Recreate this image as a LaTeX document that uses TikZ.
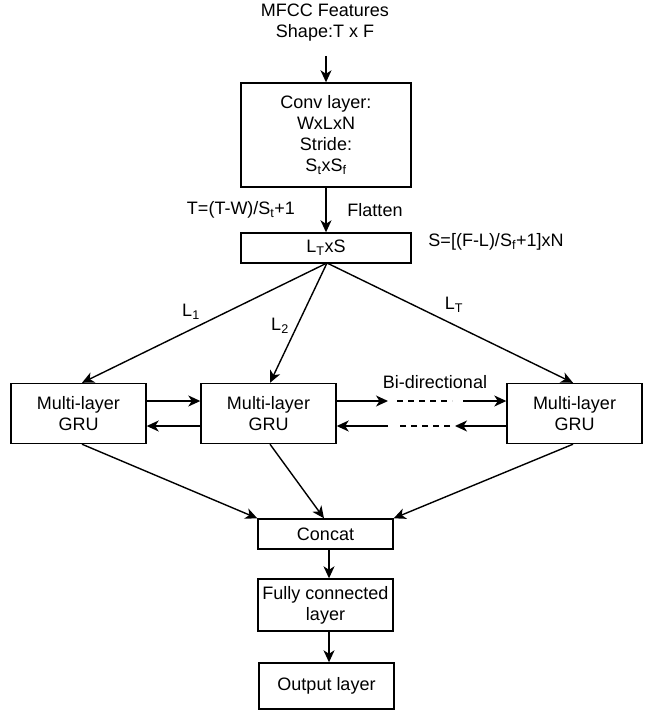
\documentclass[tikz,border=0pt]{standalone}
\usepackage{fontspec}
\setmainfont{Liberation Sans}
\usetikzlibrary{arrows.meta}
\begin{document}
\begin{tikzpicture}[x=1pt,y=-1pt,
  every node/.style={font=\fontsize{18}{21}\selectfont, align=center, inner sep=0pt},
  box/.style={draw, line width=1.4pt},
  conn/.style={line width=1.4pt, -{Stealth[length=12pt,width=11pt,inset=3.5pt]}},
  dsh/.style={line width=1.4pt, dash pattern=on 6pt off 5pt}]
\useasboundingbox (0,0) rectangle (645,719);
% text / boxes
\node (mfcc) at (325,23) {MFCC Features\\Shape:T x F};
\node[box, minimum width=170pt, minimum height=104pt] (conv) at (326,135)
  {Conv layer:\\WxLxN\\Stride:\\S\textsubscript{t}xS\textsubscript{f}};
\node[box, minimum width=170pt, minimum height=30pt] (lts) at (326,248) {L\textsubscript{T}xS};
\node (tlab) at (241,210) {T=(T-W)/S\textsubscript{t}+1};
\node (flat) at (375,210) {Flatten};
\node (slab) at (496,242) {S=[(F-L)/S\textsubscript{f}+1]xN};
\node[box, minimum width=135pt, minimum height=60pt] (g1) at (78.5,413.5) {Multi-layer\\GRU};
\node[box, minimum width=135pt, minimum height=60pt] (g2) at (268.5,413.5) {Multi-layer\\GRU};
\node[box, minimum width=135pt, minimum height=60pt] (g3) at (574.5,413.5) {Multi-layer\\GRU};
\node (bidir) at (435,382) {Bi-directional};
\node (l1) at (191,312) {L\textsubscript{1}};
\node (l2) at (280,326) {L\textsubscript{2}};
\node (lt) at (454,305) {L\textsubscript{T}};
\node[box, minimum width=135pt, minimum height=30pt] (concat) at (325.5,534) {Concat};
\node[box, minimum width=135pt, minimum height=52pt] (fc) at (325.5,605) {Fully connected\\layer};
\node[box, minimum width=135pt, minimum height=46pt] (out) at (326.5,686) {Output layer};
% coordinates
\coordinate (mfccb) at (326,56);
\coordinate (fan) at (327,263);
\coordinate (u1) at (388,401);
\coordinate (u2) at (397,401);
\coordinate (u3) at (452,401);
\coordinate (u4) at (463,401);
\coordinate (d1) at (455,426);
\coordinate (d2) at (450,426);
\coordinate (d3) at (397,426);
\coordinate (d4) at (388,426);
% connectors
\draw[conn] (mfccb) -- (conv.north);
\draw[conn] (conv.south) -- (lts.north);
\draw[conn] (fan) -- (g1.north -| 82,0);
\draw[conn] (fan) -- (g2.north -| 270,0);
\draw[conn] (fan) -- (g3.north -| 573,0);
\draw[conn] (g1.east |- 0,401) -- (g2.west |- 0,401);
\draw[conn] (g2.west |- 0,426) -- (g1.east |- 0,426);
\draw[conn] (g2.east |- 0,401) -- (u1);
\draw[dsh] (u2) -- (u3);
\draw[conn] (u4) -- (g3.west |- 0,401);
\draw[conn] (g3.west |- 0,426) -- (d1);
\draw[dsh] (d2) -- (d3);
\draw[conn] (d4) -- (g2.east |- 0,426);
\draw[conn] (g1.south -| 82,0) -- (concat.north west);
\draw[conn] (g2.south -| 270,0) -- (concat.north -| 324,0);
\draw[conn] (g3.south -| 573,0) -- (concat.north east);
\draw[conn] (concat.south -| 329,0) -- (fc.north -| 329,0);
\draw[conn] (fc.south -| 329,0) -- (out.north -| 329,0);
\end{tikzpicture}
\end{document}
